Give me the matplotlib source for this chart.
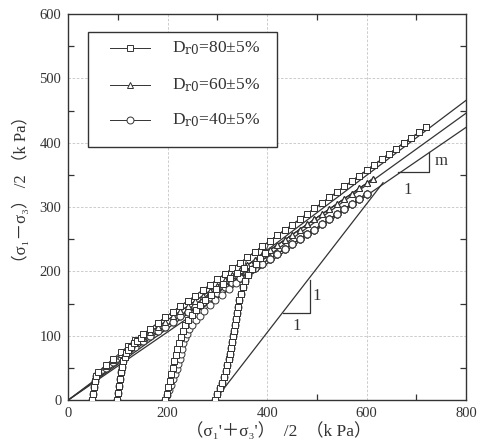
import numpy as np
import matplotlib.pyplot as plt
from matplotlib.patches import Rectangle

plt.rcParams['mathtext.fontset'] = 'dejavuserif'

# envelope of each density (p' , q)
env_p_80 = [60, 75, 90, 105, 120, 135, 150, 165, 180, 195, 210, 225, 240, 255, 270, 285, 300, 315, 330, 345,
            360, 375, 390, 405, 420, 435, 450, 465, 480, 495, 510, 525, 540, 555, 570, 585, 600, 615, 630, 645,
            660, 675, 690, 705, 720]
env_q_80 = [44, 54, 64, 74, 84, 93, 102, 111, 120, 129, 137, 146, 154, 162, 171, 179, 188, 196, 205, 213,
            222, 230, 239, 247, 256, 264, 272, 281, 289, 298, 306, 315, 323, 332, 340, 349, 357, 366, 374, 383,
            391, 400, 408, 416, 424]

env_p_60 = [60, 75, 90, 105, 120, 135, 150, 165, 180, 195, 210, 225, 240, 255, 270, 285, 300, 315, 330, 345,
            360, 375, 390, 405, 420, 435, 450, 465, 480, 495, 510, 525, 540, 555, 570, 585, 600, 612]
env_q_60 = [43, 53, 62, 71, 80, 89, 97, 106, 114, 122, 130, 138, 146, 154, 162, 170, 178, 186, 194, 202,
            210, 217, 225, 233, 241, 249, 257, 265, 273, 281, 289, 297, 305, 313, 321, 329, 337, 344]

env_p_40 = [60, 75, 90, 105, 120, 135, 150, 165, 180, 195, 210, 225, 240, 255, 270, 285, 300, 315, 330, 345,
            360, 375, 390, 405, 420, 435, 450, 465, 480, 495, 510, 525, 540, 555, 570, 585, 600]
env_q_40 = [42, 50, 59, 67, 75, 83, 91, 99, 107, 114, 122, 130, 137, 145, 152, 160, 167, 175, 182, 190,
            197, 205, 212, 220, 227, 235, 242, 250, 258, 265, 273, 281, 289, 297, 305, 313, 321]

# first part of each path, from the initial confining stress up to the envelope
b50_p = [48, 49, 51, 53, 56]
b50_q = [0, 10, 20, 29, 37]

b100_p = [98, 100, 102, 104, 106, 108, 111, 114, 117, 121, 126, 132, 139, 146]
b100_q = [0, 11, 22, 33, 43, 52, 60, 67, 73, 78, 83, 88, 92, 96]

b200a_p = [195, 198, 201, 204, 207, 210, 213, 216, 219, 222, 226, 230, 235, 241, 248, 256, 265, 275, 286,
           298, 311, 325, 339, 354]
b200a_q = [0, 10, 20, 30, 40, 50, 60, 70, 80, 89, 98, 107, 116, 124, 132, 140, 148, 156, 164,
           172, 180, 189, 197, 206]

b200b_p = [195, 199, 203, 207, 211, 215, 218, 221, 224, 226, 228, 231, 234, 238, 243, 249, 256, 264, 273,
           284, 296, 309, 323, 338]
b200b_q = [0, 8, 16, 24, 32, 40, 48, 56, 64, 72, 80, 88, 96, 103, 110, 117, 124, 131, 138,
           148, 156, 164, 173, 182]

b300_p = [295, 300, 305, 309, 313, 317, 320, 323, 325, 327, 329, 331, 333, 335, 337, 339, 341, 344, 347,
          351, 356, 362, 369, 377, 386, 396]
b300_q = [0, 9, 18, 27, 36, 45, 54, 63, 72, 81, 90, 99, 108, 117, 126, 135, 145, 155, 165,
          175, 185, 194, 203, 212, 221, 229]

# failure lines and total stress path
line_p = [0, 800]
line_q_80 = [0, 466]
line_q_60 = [0, 446]
line_q_40 = [0, 424]
tsp_p = [295, 633]
tsp_q = [0, 338]

labels = ['D$_{\\rm r0}$=80±5%', 'D$_{\\rm r0}$=60±5%', 'D$_{\\rm r0}$=40±5%']


def join(bp, bq, ep, eq):
    p = list(bp) + [x for x in ep if x > bp[-1]]
    q = list(bq) + [y for x, y in zip(ep, eq) if x > bp[-1]]
    return p, q


curves = {
    'o': [join(b50_p, b50_q, env_p_40, env_q_40), join(b100_p, b100_q, env_p_40, env_q_40),
          join(b200b_p, b200b_q, env_p_40, env_q_40), join(b300_p, b300_q, env_p_40, env_q_40)],
    '^': [join(b50_p, b50_q, env_p_60, env_q_60), join(b100_p, b100_q, env_p_60, env_q_60),
          join(b200a_p, b200a_q, env_p_60, env_q_60), join(b300_p, b300_q, env_p_60, env_q_60)],
    's': [join(b50_p, b50_q, env_p_80, env_q_80), join(b100_p, b100_q, env_p_80, env_q_80),
          join(b200a_p, b200a_q, env_p_80, env_q_80), join(b300_p, b300_q, env_p_80, env_q_80)],
}

ink = '#333333'
serif = ['Liberation Serif', 'DejaVu Serif', 'Noto Sans CJK JP']
mstyle = dict(color=ink, lw=0.7, ms=5, mfc='white', mec=ink, mew=0.7)

fig = plt.figure(figsize=(4.81, 4.42), dpi=100)
ax = fig.add_axes([0.142, 0.095, 0.827, 0.873])

for lq in [line_q_80, line_q_60, line_q_40]:
    ax.plot(line_p, lq, color=ink, lw=0.9, zorder=2)
ax.plot(tsp_p, tsp_q, color=ink, lw=0.9, zorder=2)

for mk in ['o', '^', 's']:
    for p, q in curves[mk]:
        ax.plot(p, q, marker=mk, zorder=3, **mstyle)

# slope triangles
ax.plot([432, 486, 486], [135, 135, 187], color=ink, lw=0.9)
ax.text(459, 115, '1', ha='center', va='center', fontsize=12, family=serif, color=ink)
ax.text(500, 161, '1', ha='center', va='center', fontsize=12, family=serif, color=ink)
ax.plot([663, 725, 725], [354, 354, 385], color=ink, lw=0.9)
ax.text(683, 327, '1', ha='center', va='center', fontsize=12, family=serif, color=ink)
ax.text(750, 371, 'm', ha='center', va='center', fontsize=12, family=serif, color=ink)

ax.set_xlim(0, 800)
ax.set_ylim(0, 600)
ax.set_xticks([0, 200, 400, 600, 800])
ax.set_xticks([100, 300, 500, 700], minor=True)
ax.set_yticks([0, 100, 200, 300, 400, 500, 600])
ax.set_yticks([50, 150, 250, 350, 450, 550], minor=True)
ax.tick_params(which='both', direction='in', top=True, right=True, colors=ink, labelsize=10.5)
ax.tick_params(which='major', length=0, pad=5)
ax.tick_params(which='minor', length=4, width=0.9)
for lab in ax.get_xticklabels() + ax.get_yticklabels():
    lab.set_family('Liberation Serif')
ax.grid(True, which='major', color='#c4c4c4', lw=0.6, ls=(0, (3, 2)))
for s in ax.spines.values():
    s.set_color(ink)
    s.set_linewidth(1.0)

ax.set_xlabel("（σ₁'＋σ₃'）  /2  （k Pa）", family=serif, fontsize=12.5, color=ink)
ax.set_ylabel("（σ₁－σ₃） /2 （k Pa）", family=serif, fontsize=12, color=ink)
ax.xaxis.set_label_coords(0.53, -0.058)
ax.yaxis.set_label_coords(-0.097, 0.545)

# legend box drawn by hand to keep its placement
tr = ax.transAxes
ax.add_patch(Rectangle((0.0495, 0.655), 0.475, 0.298, transform=tr, fill=True, fc='white',
                       ec=ink, lw=1.0, zorder=5))
for y, mk, lab in zip([0.912, 0.816, 0.725], ['s', '^', 'o'], labels):
    ax.plot([0.105, 0.205], [y, y], transform=tr, zorder=6, color=ink, lw=0.7)
    ax.plot([0.155], [y], marker=mk, transform=tr, zorder=7, **mstyle)
    ax.text(0.26, y, lab, transform=tr, ha='left', va='center', fontsize=12.5,
            family='Liberation Serif', color=ink, zorder=7)

fig.savefig('out.png', dpi=100)
